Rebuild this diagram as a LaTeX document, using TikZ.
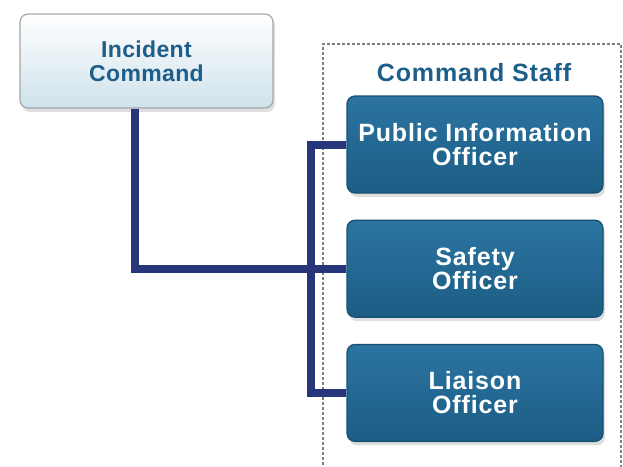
\documentclass[tikz,border=0pt]{standalone}
\usepackage{fontspec}
\setsansfont{Liberation Sans}
\newfontfamily\stafffont{Liberation Sans}[LetterSpace=3.5]
\newfontfamily\cmdfont{Liberation Sans}[LetterSpace=1.5]
\usepackage{tikz}
\usetikzlibrary{positioning, shadows}
\definecolor{staffblue}{HTML}{206D9C}
\definecolor{staffedge}{HTML}{174F72}
\definecolor{cmdtext}{HTML}{1D5E8A}
\definecolor{cmdshade}{HTML}{CFE2EC}
\definecolor{linknavy}{HTML}{27357A}
\tikzset{
  font={\stafffont\bfseries\fontsize{25pt}{24pt}\selectfont}}

\begin{document}
\begin{tikzpicture}[x=1pt, y=-1pt,
  cmdbox/.style={draw=gray!70, line width=1.2pt, rounded corners=8pt,
    top color=white, bottom color=cmdshade, text=cmdtext,
    font={\cmdfont\bfseries\fontsize{23pt}{24pt}\selectfont},
    minimum width=253pt, minimum height=94pt, inner sep=0pt, align=center,
    drop shadow={shadow xshift=2pt, shadow yshift=-4pt, opacity=0.25}},
  staffbox/.style={draw=staffedge, line width=1.2pt, rounded corners=8pt,
    top color=staffblue!95!white, bottom color=staffblue!85!black, text=white,
    minimum width=256pt, minimum height=97pt, inner sep=0pt, align=center,
    drop shadow={shadow xshift=2pt, shadow yshift=-4pt, opacity=0.25}},
  link/.style={draw=linknavy, line width=8pt, line join=miter}]
  \useasboundingbox (0,0) rectangle (623,466);
  % dashed frame round the command staff
  \draw[gray, line width=2.2pt, dash pattern=on 3pt off 2pt]
    (323,470) -- (323,44) -- (621,44) -- (621,470);
  \node (staff) [text=cmdtext] at (474,73) {Command Staff};
  \node (ic) [cmdbox] at (146.5,61) {Incident\\Command};
  \node (pio) [staffbox] at (475,144.5) {Public Information\\Officer};
  \node (safety) [staffbox, below=26pt of pio] {Safety\\Officer};
  \node (liaison) [staffbox, below=26pt of safety] {Liaison\\Officer};
  \coordinate (drop) at ([xshift=-11.5pt]ic.south);
  \coordinate (bus) at (311,268);
  \draw[link] (drop) |- (safety.west);
  \draw[link] (pio.west) -| (bus) |- (liaison.west);
\end{tikzpicture}
\end{document}
